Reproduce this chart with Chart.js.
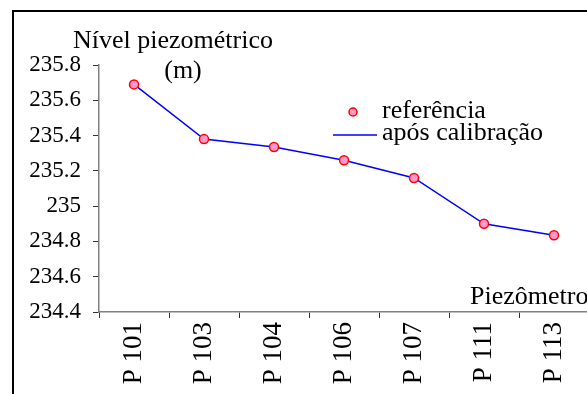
<!DOCTYPE html>
<html>
<head>
<meta charset="utf-8">
<script src="https://cdn.jsdelivr.net/npm/chart.js@4/dist/chart.umd.min.js"></script>
<style>
  html, body { margin: 0; padding: 0; background: #fff; overflow: hidden; }
  #wrap { position: absolute; left: 0; top: 0; width: 640px; height: 394px; }
</style>
</head>
<body>
<div id="wrap"><canvas id="chartPiezo" width="640" height="394"></canvas></div>
<script>
/* ── Data ─────────────────────────────────────────────── */
const piezometers   = ["P 101", "P 103", "P 104", "P 106", "P 107", "P 111", "P 113"];
const refLevels     = [235.69, 235.38, 235.335, 235.26, 235.16, 234.90, 234.835];
const calibLevels   = [235.69, 235.38, 235.335, 235.26, 235.16, 234.90, 234.835];
const yTicks        = { min: 234.4, max: 235.8, step: 0.2 };

const FONT = "'Liberation Serif', 'Times New Roman', serif";

/* ── Frame, captions and legend ──────────────────────── */
const decor = {
  id: "decor",
  beforeDraw(chart) {
    const ctx = chart.ctx;
    ctx.save();
    ctx.strokeStyle = "#000";
    ctx.lineWidth = 2;
    ctx.strokeRect(13, 11, 900, 700);
    ctx.restore();
  },
  afterDraw(chart) {
    const ctx = chart.ctx;
    ctx.save();
    ctx.fillStyle = "#000";
    ctx.font = "26px " + FONT;
    ctx.textBaseline = "alphabetic";
    ctx.textAlign = "left";
    ctx.fillText("Nível piezométrico", 73, 48);
    ctx.textAlign = "center";
    ctx.fillText("(m)", 183, 78);
    ctx.textAlign = "left";
    ctx.fillText("Piezômetro", 470, 304);

    // legend
    ctx.beginPath();
    ctx.arc(353, 112, 4, 0, Math.PI * 2);
    ctx.fillStyle = "#ff99cc";
    ctx.fill();
    ctx.lineWidth = 1.5;
    ctx.strokeStyle = "#ff0000";
    ctx.stroke();

    ctx.beginPath();
    ctx.moveTo(333, 135);
    ctx.lineTo(377, 135);
    ctx.strokeStyle = "#0000ff";
    ctx.lineWidth = 1.5;
    ctx.stroke();

    ctx.fillStyle = "#000";
    ctx.fillText("referência", 382, 118);
    ctx.fillText("após calibração", 382, 140);
    ctx.restore();
  },
};

new Chart(document.getElementById("chartPiezo"), {
  type: "line",
  data: {
    labels: piezometers,
    datasets: [
      {
        label: "referência",
        data: refLevels,
        showLine: false,
        pointRadius: 4.5,
        pointBackgroundColor: "#ff99cc",
        pointBorderColor: "#ff0000",
        pointBorderWidth: 1.5,
        order: 0,
      },
      {
        label: "após calibração",
        data: calibLevels,
        borderColor: "#0000ff",
        borderWidth: 1.5,
        pointRadius: 0,
        tension: 0,
        order: 1,
      },
    ],
  },
  options: {
    responsive: false,
    animation: false,
    devicePixelRatio: 1,
    clip: false,
    layout: { padding: { top: 65, right: 51, left: 0, bottom: 0 } },
    plugins: { legend: { display: false }, tooltip: { enabled: false } },
    scales: {
      x: {
        offset: true,
        grid: { drawOnChartArea: false, offset: true, tickLength: 6, color: "#333", lineWidth: 1 },
        border: { color: "#808080", width: 1.5 },
        ticks: {
          minRotation: 90, maxRotation: 90, padding: 4, color: "#000",
          font: { family: FONT, size: 27 },
        },
        afterFit(scale) { scale.height = 82; },
      },
      y: {
        min: yTicks.min,
        max: yTicks.max,
        grid: { drawOnChartArea: false, tickLength: 6, color: "#333", lineWidth: 1 },
        border: { color: "#808080", width: 1.5 },
        ticks: {
          stepSize: yTicks.step, padding: 12, color: "#000",
          font: { family: FONT, size: 23 },
          callback: v => String(+v.toFixed(1)),
        },
        afterFit(scale) { scale.width = 99; },
      },
    },
  },
  plugins: [decor],
});
</script>
</body>
</html>
